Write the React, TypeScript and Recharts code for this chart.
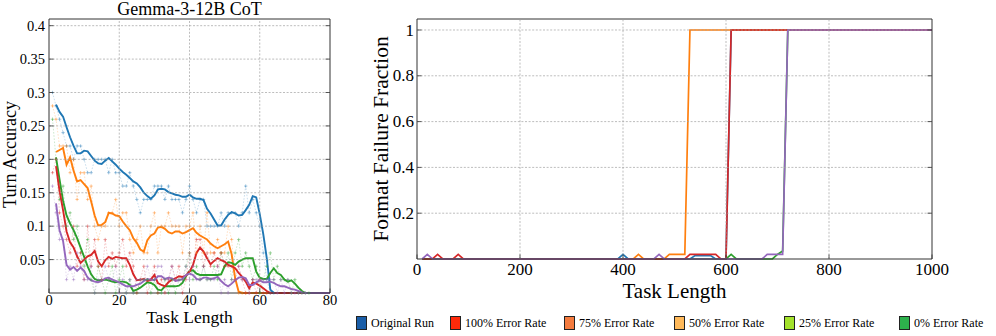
import React from 'react';
import { LineChart, Line, XAxis, YAxis } from 'recharts';

const FONT = "'Liberation Serif', 'Times New Roman', serif";
const AX = '#333';
const GRID = '#a0a0a0';
const C = { blue: '#1f77b4', orange: '#ff7f0e', green: '#2ca02c', red: '#d62728', purple: '#9467bd' };

// ================= Left panel: Turn Accuracy =================
const LEFT_TITLE = 'Gemma-3-12B CoT';
const LEFT_X_TICKS = [0, 20, 40, 60, 80];
const LEFT_Y_TICKS = [0.05, 0.1, 0.15, 0.2, 0.25, 0.3, 0.35, 0.4];
const SMOOTH_FIRST_LENGTH = 2;
const RAW_FIRST_LENGTH = 1;

const blueSmooth = [
  0.282, 0.271, 0.264, 0.248, 0.233, 0.220, 0.209, 0.209, 0.213, 0.212,
  0.205, 0.198, 0.194, 0.193, 0.198, 0.202, 0.197, 0.192, 0.186, 0.181,
  0.177, 0.172, 0.167, 0.164, 0.158, 0.150, 0.145, 0.141, 0.146, 0.155,
  0.156, 0.155, 0.151, 0.149, 0.147, 0.146, 0.144, 0.144, 0.147, 0.143,
  0.141, 0.141, 0.139, 0.126, 0.119, 0.110, 0.101, 0.101, 0.110, 0.117,
  0.121, 0.119, 0.116, 0.117, 0.124, 0.132, 0.145, 0.143, 0.118, 0.088,
  0.052, 0.005, 0, 0, 0, 0, 0, 0, 0, 0,
  0, 0, 0, 0, 0, 0, 0, 0, 0,
];
const orangeSmooth = [
  0.211, 0.214, 0.217, 0.192, 0.203, 0.183, 0.167, 0.169, 0.163, 0.157,
  0.137, 0.116, 0.101, 0.102, 0.106, 0.120, 0.119, 0.116, 0.115, 0.107,
  0.100, 0.094, 0.082, 0.075, 0.065, 0.062, 0.079, 0.086, 0.089, 0.098,
  0.099, 0.096, 0.091, 0.089, 0.092, 0.092, 0.089, 0.091, 0.094, 0.097,
  0.090, 0.086, 0.083, 0.080, 0.074, 0.070, 0.067, 0.070, 0.073, 0.077,
  0.058, 0.022, 0.002, 0, 0, 0, 0, 0, 0, 0,
  0, 0, 0, 0, 0, 0, 0, 0, 0, 0,
  0, 0, 0, 0, 0, 0, 0, 0, 0,
];
const greenSmooth = [
  0.203, 0.170, 0.138, 0.116, 0.104, 0.094, 0.082, 0.068, 0.054, 0.040,
  0.028, 0.021, 0.019, 0.019, 0.020, 0.019, 0.017, 0.016, 0.017, 0.017,
  0.016, 0.012, 0.003, 0.005, 0.008, 0.012, 0.016, 0.015, 0.012, 0.005,
  0.004, 0.010, 0.010, 0.010, 0.010, 0.011, 0.015, 0.025, 0.033, 0.034,
  0.029, 0.027, 0.027, 0.027, 0.027, 0.027, 0.027, 0.028, 0.040, 0.046,
  0.045, 0.042, 0.047, 0.050, 0.052, 0.052, 0.052, 0.032, 0.023, 0.021,
  0.021, 0.030, 0.037, 0.030, 0.027, 0.020, 0.017, 0.019, 0.014, 0.008,
  0.003, 0, 0, 0, 0, 0, 0, 0, 0,
];
const redSmooth = [
  0.190, 0.153, 0.124, 0.092, 0.076, 0.068, 0.055, 0.045, 0.050, 0.055,
  0.057, 0.063, 0.047, 0.040, 0.049, 0.054, 0.051, 0.054, 0.053, 0.052,
  0.052, 0.042, 0.028, 0.019, 0.020, 0.021, 0.018, 0.020, 0.027, 0.015,
  0.012, 0.010, 0.016, 0.020, 0.022, 0.025, 0.024, 0.026, 0.032, 0.042,
  0.060, 0.068, 0.062, 0.052, 0.043, 0.048, 0.052, 0.049, 0.047, 0.042,
  0.040, 0.037, 0.030, 0.024, 0.017, 0.007, 0.016, 0.014, 0.011, 0.007,
  0.003, 0, 0, 0, 0, 0, 0, 0, 0, 0,
  0, 0, 0, 0, 0, 0, 0, 0, 0,
];
const purpleSmooth = [
  0.134, 0.094, 0.078, 0.042, 0.035, 0.039, 0.033, 0.038, 0.033, 0.023,
  0.019, 0.017, 0.016, 0.018, 0.022, 0.023, 0.020, 0.018, 0.016, 0.013,
  0.010, 0.010, 0.010, 0.012, 0.014, 0.018, 0.021, 0.020, 0.019, 0.025,
  0.025, 0.021, 0.023, 0.022, 0.018, 0.019, 0.021, 0.027, 0.029, 0.027,
  0.021, 0.020, 0.023, 0.023, 0.021, 0.022, 0.024, 0.018, 0.013, 0.010,
  0.014, 0.019, 0.023, 0.024, 0.022, 0.012, 0.012, 0.016, 0.019, 0.016,
  0.016, 0.017, 0.015, 0.012, 0.010, 0.010, 0.008, 0.006, 0.005, 0.003,
  0.001, 0, 0, 0, 0, 0, 0, 0, 0,
];

const blueRaw = [
  0.30, 0.28, 0.26, 0.24, 0.22, 0.22, 0.20, 0.22, 0.22, 0.20,
  0.18, 0.18, 0.20, 0.20, 0.20, 0.20, 0.18, 0.20, 0.18, 0.18,
  0.16, 0.16, 0.18, 0.16, 0.14, 0.12, 0.14, 0.14, 0.14, 0.16,
  0.16, 0.16, 0.14, 0.16, 0.14, 0.14, 0.14, 0.12, 0.14, 0.16,
  0.14, 0.12, 0.14, 0.14, 0.10, 0.10, 0.10, 0.10, 0.12, 0.10,
  0.12, 0.12, 0.12, 0.10, 0.12, 0.16, 0.12, 0.14, 0.12, 0.10,
  0.06, 0.02, 0, 0,
];
const orangeRaw = [
  0.28, 0.26, 0.22, 0.22, 0.22, 0.18, 0.20, 0.14, 0.18, 0.18,
  0.14, 0.16, 0.10, 0.08, 0.10, 0.10, 0.12, 0.12, 0.14, 0.10,
  0.12, 0.12, 0.08, 0.06, 0.08, 0.10, 0.06, 0.06, 0.10, 0.12,
  0.06, 0.10, 0.10, 0.12, 0.10, 0.10, 0.10, 0.06, 0.10, 0.10,
  0.12, 0.06, 0.10, 0.06, 0.12, 0.06, 0.06, 0.08, 0.06, 0.06,
  0.10, 0.08, 0.02, 0, 0, 0,
];
const greenRaw = [
  0.26, 0.20, 0.14, 0.16, 0.10, 0.12, 0.08, 0.10, 0.06, 0.04,
  0.08, 0.02, 0, 0.04, 0.02, 0, 0.02, 0.04, 0, 0.02,
  0.04, 0, 0.02, 0, 0, 0.02, 0.02, 0.02, 0, 0.02,
  0, 0, 0.02, 0, 0.02, 0, 0.02, 0.02, 0.04, 0.06,
  0.02, 0.04, 0.02, 0.04, 0.02, 0.02, 0.04, 0.02, 0.06, 0.04,
  0.06, 0.02, 0.06, 0.08, 0.04, 0.06, 0.04, 0.02, 0.04, 0,
  0.02, 0.04, 0.06, 0.02, 0.04, 0.02, 0.02, 0.02, 0, 0.02,
  0, 0, 0, 0,
];
const redRaw = [
  0.18, 0.20, 0.12, 0.10, 0.08, 0.06, 0.10, 0.04, 0.06, 0.02,
  0.10, 0.04, 0.08, 0.04, 0.02, 0.08, 0.04, 0.06, 0.04, 0.06,
  0.08, 0.04, 0.06, 0.04, 0, 0.02, 0.04, 0, 0.02, 0.04,
  0, 0.02, 0, 0.02, 0.04, 0.02, 0.04, 0, 0.02, 0.06,
  0.04, 0.08, 0.08, 0.04, 0.06, 0.04, 0.06, 0.04, 0.06, 0.04,
  0.04, 0.04, 0.02, 0.04, 0.02, 0, 0, 0.02, 0, 0.02,
  0, 0, 0,
];
const purpleRaw = [
  0.16, 0.12, 0.08, 0.08, 0.02, 0.04, 0.02, 0.06, 0.04, 0.02,
  0.02, 0.04, 0, 0.02, 0.02, 0.04, 0.02, 0.02, 0.04, 0,
  0.02, 0, 0.02, 0, 0.02, 0.02, 0.02, 0.04, 0.02, 0.02,
  0.04, 0.04, 0.02, 0.02, 0.04, 0.02, 0.02, 0.02, 0.04, 0.02,
  0.04, 0.02, 0.02, 0.04, 0.02, 0.02, 0.02, 0.04, 0, 0.02,
  0, 0.02, 0.02, 0.04, 0.02, 0.02, 0, 0.02, 0.02, 0.02,
  0.02, 0.02, 0.02, 0.02, 0, 0.02, 0, 0.02, 0, 0,
  0, 0, 0,
];

// ================= Right panel: Format Failure Fraction =================
const RIGHT_X_TICKS = [0, 200, 400, 600, 800, 1000];
const RIGHT_Y_TICKS = [0.2, 0.4, 0.6, 0.8, 1];

const ffBlueX = [10, 390, 400, 410, 530, 540, 570, 580, 600, 610, 1000];
const ffBlueY = [0, 0, 0.02, 0, 0, 0.015, 0.015, 0, 0, 1, 1];
const ffOrangeX = [10, 420, 430, 440, 480, 490, 520, 530, 1000];
const ffOrangeY = [0, 0, 0.02, 0, 0, 0.02, 0.02, 1, 1];
const ffGreenX = [10, 600, 610, 620, 690, 700, 710, 720, 1000];
const ffGreenY = [0, 0, 0.02, 0, 0, 0.02, 0.035, 1, 1];
const ffRedX = [10, 30, 40, 50, 70, 80, 90, 520, 530, 580, 590, 600, 610, 1000];
const ffRedY = [0, 0, 0.02, 0, 0, 0.02, 0, 0, 0.02, 0.02, 0, 0, 1, 1];
const ffPurpleX = [10, 20, 30, 460, 470, 480, 670, 680, 710, 720, 1000];
const ffPurpleY = [0, 0.02, 0, 0, 0.02, 0, 0, 0.02, 0.02, 1, 1];

// ================= Legend =================
const LEGEND_LABELS = ['Original Run', '100% Error Rate', '75% Error Rate', '50% Error Rate', '25% Error Rate', '0% Error Rate'];
const LEGEND_COLORS = ['#1a5ea8', '#ff2a0a', '#f47b3e', '#ffb95a', '#a4e22c', '#2db14c'];
const LEGEND_LEFTS = [356, 450, 564, 674, 784, 899];

// ---------- helpers ----------
const seriesFrom = (first: number, vals: number[]) => vals.map((v, i) => ({ t: first + i, v }));
const xyFrom = (xs: number[], ys: number[]) => xs.map((x, i) => ({ x, y: ys[i] }));
const isMajor = (majors: number[], v: number) => majors.some((m) => Math.abs(m - v) < 1e-9);

const gridProps = { stroke: GRID, strokeWidth: 0.7, strokeDasharray: '2 1.6' };
const TICK_LEN = 4.5;

// Bottom axis: inward tick mark, label, and a vertical grid line for interior values.
const bottomTick = (fs: number, dy: number, plotH: number, lo: number, hi: number) => (p: any) => {
  const { x, y, payload } = p;
  const v = payload.value;
  return (
    <g>
      {v > lo && v < hi && <line x1={x} x2={x} y1={y} y2={y - plotH} {...gridProps} />}
      <line x1={x} x2={x} y1={y} y2={y - TICK_LEN} stroke={AX} strokeWidth={0.8} />
      <text x={x} y={y + dy} textAnchor="middle" fontSize={fs} fontFamily={FONT} fill="#000">
        {String(v)}
      </text>
    </g>
  );
};
// Left axis: inward tick mark, label, and a horizontal grid line.
const leftTick = (fs: number, gap: number, dy: number, plotW: number) => (p: any) => {
  const { x, y, payload } = p;
  return (
    <g>
      <line x1={x} x2={x + plotW} y1={y} y2={y} {...gridProps} />
      <line x1={x} x2={x + TICK_LEN} y1={y} y2={y} stroke={AX} strokeWidth={0.8} />
      <text x={x - gap} y={y + dy} textAnchor="end" fontSize={fs} fontFamily={FONT} fill="#000">
        {String(payload.value)}
      </text>
    </g>
  );
};
const topTick = (p: any) => {
  const { x, y } = p;
  return <line x1={x} x2={x} y1={y} y2={y + TICK_LEN} stroke={AX} strokeWidth={0.8} />;
};
const rightTick = (p: any) => {
  const { x, y } = p;
  return <line x1={x} x2={x - TICK_LEN} y1={y} y2={y} stroke={AX} strokeWidth={0.8} />;
};

const PlusDot = (props: any) => {
  const { cx, cy, stroke } = props;
  if (cx == null || cy == null) return null;
  const r = 1.7;
  return (
    <path
      d={`M${cx - r},${cy}H${cx + r}M${cx},${cy - r}V${cy + r}`}
      stroke={stroke}
      strokeWidth={0.9}
      strokeOpacity={0.45}
      fill="none"
    />
  );
};

const LEFT_SERIES = [
  { color: C.blue, smooth: blueSmooth, raw: blueRaw },
  { color: C.orange, smooth: orangeSmooth, raw: orangeRaw },
  { color: C.green, smooth: greenSmooth, raw: greenRaw },
  { color: C.red, smooth: redSmooth, raw: redRaw },
  { color: C.purple, smooth: purpleSmooth, raw: purpleRaw },
];

const RIGHT_SERIES = [
  { color: C.blue, data: xyFrom(ffBlueX, ffBlueY) },
  { color: C.orange, data: xyFrom(ffOrangeX, ffOrangeY) },
  { color: C.green, data: xyFrom(ffGreenX, ffGreenY) },
  { color: C.red, data: xyFrom(ffRedX, ffRedY) },
  { color: C.purple, data: xyFrom(ffPurpleX, ffPurpleY) },
];

const axisCommon = {
  type: 'number' as const,
  interval: 0 as const,
  tickSize: 0,
  tickMargin: 0,
  tickLine: false,
  axisLine: { stroke: AX, strokeWidth: 1 },
};

function LeftPanel() {
  const W = 340, H = 336;
  const M = { top: 18, right: 9, bottom: 0, left: 0 };
  const X_AXIS_H = 43, Y_AXIS_W = 49;
  const plotW = W - M.left - M.right - Y_AXIS_W - 1;
  const plotH = H - M.top - M.bottom - X_AXIS_H - 1;
  const X_MAX = 80;
  const Y_MAX = 0.41;
  return (
    <LineChart width={W} height={H} margin={M}>
      <XAxis {...axisCommon} dataKey="t" domain={[0, X_MAX]} ticks={LEFT_X_TICKS} height={X_AXIS_H}
        tick={bottomTick(14.5, 11.5, plotH, 0, X_MAX)} />
      <XAxis {...axisCommon} xAxisId="top" orientation="top" domain={[0, X_MAX]} allowDataOverflow
        ticks={LEFT_X_TICKS} height={1} tick={topTick} />
      <YAxis {...axisCommon} domain={[0, Y_MAX]} ticks={LEFT_Y_TICKS} width={Y_AXIS_W}
        tick={leftTick(14.5, 4, 5, plotW)} />
      <YAxis {...axisCommon} yAxisId="right" orientation="right" domain={[0, Y_MAX]} allowDataOverflow
        ticks={LEFT_Y_TICKS} width={1} tick={rightTick} />
      {LEFT_SERIES.map((s, i) => (
        <Line
          key={'raw' + i}
          data={seriesFrom(RAW_FIRST_LENGTH, s.raw)}
          dataKey="v"
          type="linear"
          stroke={s.color}
          strokeWidth={0.8}
          strokeOpacity={0.3}
          strokeDasharray="1.6 1.6"
          dot={<PlusDot />}
          activeDot={false}
          isAnimationActive={false}
        />
      ))}
      {LEFT_SERIES.map((s, i) => (
        <Line
          key={'sm' + i}
          data={seriesFrom(SMOOTH_FIRST_LENGTH, s.smooth)}
          dataKey="v"
          type="linear"
          stroke={s.color}
          strokeWidth={1.9}
          dot={false}
          activeDot={false}
          isAnimationActive={false}
        />
      ))}
    </LineChart>
  );
}

function RightPanel() {
  const W = 656, H = 336;
  const M = { top: 18, right: 63, bottom: 0, left: 0 };
  const X_AXIS_H = 77, Y_AXIS_W = 77;
  const plotW = W - M.left - M.right - Y_AXIS_W - 1;
  const plotH = H - M.top - M.bottom - X_AXIS_H - 1;
  const X_MAX = 1000;
  const Y_MAX = 1.048;
  return (
    <LineChart width={W} height={H} margin={M}>
      <XAxis {...axisCommon} dataKey="x" domain={[0, X_MAX]} ticks={RIGHT_X_TICKS} height={X_AXIS_H}
        tick={bottomTick(17, 16, plotH, 0, X_MAX)} />
      <XAxis {...axisCommon} xAxisId="top" orientation="top" domain={[0, X_MAX]} allowDataOverflow
        ticks={RIGHT_X_TICKS} height={1} tick={topTick} />
      <YAxis {...axisCommon} domain={[0, Y_MAX]} ticks={RIGHT_Y_TICKS} width={Y_AXIS_W}
        tick={leftTick(17, 3, 5.6, plotW)} />
      <YAxis {...axisCommon} yAxisId="right" orientation="right" domain={[0, Y_MAX]} allowDataOverflow
        ticks={RIGHT_Y_TICKS} width={1} tick={rightTick} />
      {RIGHT_SERIES.map((s, i) => (
        <Line
          key={'ff' + i}
          data={s.data}
          dataKey="y"
          type="linear"
          stroke={s.color}
          strokeWidth={1.7}
          dot={false}
          activeDot={false}
          isAnimationActive={false}
        />
      ))}
    </LineChart>
  );
}

export default function App() {
  return (
    <div style={{ position: 'absolute', left: 0, top: 0, width: 996, height: 336, background: '#fff', overflow: 'hidden' }}>
      <div style={{ position: 'absolute', left: 0, top: 0 }}>
        <LeftPanel />
      </div>
      <div style={{ position: 'absolute', left: 340, top: 0 }}>
        <RightPanel />
      </div>
      <svg width={996} height={336} style={{ position: 'absolute', left: 0, top: 0, pointerEvents: 'none' }}>
        <text x={189.5} y={15} textAnchor="middle" fontSize={18} fontFamily={FONT} fill="#000">
          {LEFT_TITLE}
        </text>
        <text x={16} y={154.5} textAnchor="middle" fontSize={18} fontFamily={FONT} fill="#000" transform="rotate(-90 16 154.5)">
          Turn Accuracy
        </text>
        <text x={189.5} y={323} textAnchor="middle" fontSize={17.5} fontFamily={FONT} fill="#000">
          Task Length
        </text>
        <text x={388} y={139} textAnchor="middle" fontSize={21.5} fontFamily={FONT} fill="#000" transform="rotate(-90 388 139)">
          Format Failure Fraction
        </text>
        <text x={674.5} y={297.5} textAnchor="middle" fontSize={21} fontFamily={FONT} fill="#000">
          Task Length
        </text>
      </svg>
      {LEGEND_LABELS.map((label, i) => (
        <div
          key={label}
          style={{
            position: 'absolute',
            left: LEGEND_LEFTS[i],
            top: 316,
            display: 'flex',
            alignItems: 'center',
            whiteSpace: 'nowrap',
            fontFamily: FONT,
            fontSize: 12,
            color: '#000',
            lineHeight: '14px',
          }}
        >
          <span
            style={{
              display: 'inline-block',
              width: 11,
              height: 14,
              boxSizing: 'border-box',
              border: '1px solid #222',
              background: LEGEND_COLORS[i],
              marginRight: 4,
            }}
          />
          <span>{label}</span>
        </div>
      ))}
    </div>
  );
}
